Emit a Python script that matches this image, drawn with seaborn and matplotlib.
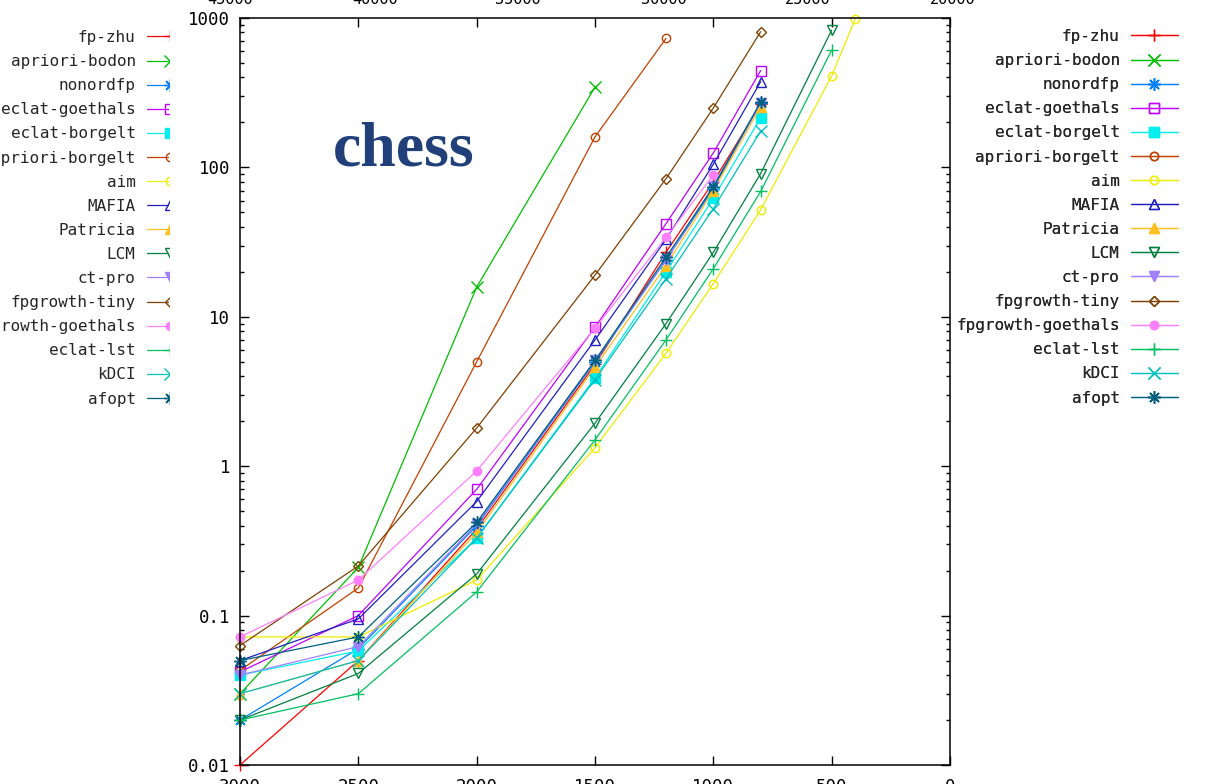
import numpy as np
import pandas as pd
import matplotlib
matplotlib.use("Agg")
import matplotlib.pyplot as plt
import seaborn as sns
from matplotlib.ticker import FixedLocator, FixedFormatter, LogLocator, NullFormatter
from matplotlib.transforms import Bbox, TransformedBbox
from matplotlib.lines import Line2D

nan = np.nan
# ---- data (minimum support, running time in seconds) ----
support = [3000, 2500, 2000, 1500, 1200, 1000, 800, 500, 400]

algorithms = ["fp-zhu", "apriori-bodon", "nonordfp", "eclat-goethals", "eclat-borgelt",
              "apriori-borgelt", "aim", "MAFIA", "Patricia", "LCM", "ct-pro",
              "fpgrowth-tiny", "fpgrowth-goethals", "eclat-lst", "kDCI", "afopt"]

fp_zhu            = [0.010, 0.050, 0.38, 4.8, 27, 80, 265, nan, nan]
apriori_bodon     = [0.030, 0.210, 15.8, 345, nan, nan, nan, nan, nan]
nonordfp          = [0.020, 0.060, 0.40, 5.0, 24, 72, 270, nan, nan]
eclat_goethals    = [0.042, 0.100, 0.70, 8.5, 42, 125, 445, nan, nan]
eclat_borgelt     = [0.040, 0.058, 0.33, 3.9, 20, 62, 215, nan, nan]
apriori_borgelt   = [0.043, 0.153, 5.0, 160, 730, nan, nan, nan, nan]
aim               = [0.072, 0.072, 0.173, 1.33, 5.7, 16.7, 52, 410, 990]
mafia             = [0.050, 0.095, 0.58, 7.0, 33, 105, 375, nan, nan]
patricia          = [0.030, 0.050, 0.36, 4.6, 22, 70, 255, nan, nan]
lcm               = [0.020, 0.041, 0.19, 1.94, 9, 27, 91, 830, nan]
ct_pro            = [0.040, 0.062, 0.41, 5.1, 24, 75, 270, nan, nan]
fpgrowth_tiny     = [0.063, 0.215, 1.8, 19, 84, 250, 810, nan, nan]
fpgrowth_goethals = [0.072, 0.173, 0.93, 8.4, 34, 89, nan, nan, nan]
eclat_lst         = [0.020, 0.030, 0.144, 1.5, 7, 21, 69, 610, nan]
kdci              = [0.030, 0.050, 0.33, 3.8, 18, 53, 175, nan, nan]
afopt             = [0.050, 0.072, 0.42, 5.1, 25, 74, 275, nan, nan]

series_values = [fp_zhu, apriori_bodon, nonordfp, eclat_goethals, eclat_borgelt,
                 apriori_borgelt, aim, mafia, patricia, lcm, ct_pro,
                 fpgrowth_tiny, fpgrowth_goethals, eclat_lst, kdci, afopt]

y_ticks = [0.01, 0.1, 1, 10, 100, 1000]
y_tick_labels = ["0.01", "0.1", "1", "10", "100", "1000"]
x_ticks = [3000, 2500, 2000, 1500, 1000, 500, 0]
x_tick_labels = ["3000", "2500", "2000", "1500", "1000", "500", "0"]
# clipped tick labels of the neighbouring chart above
top_labels = ["45000", "40000", "35000", "30000", "25000", "20000"]
title_text = "chess"

# ---- styles ----
colors = ["#ff0000", "#00c000", "#0080ff", "#c000ff", "#00eeee", "#c04000", "#eeee00",
          "#2020c0", "#ffc020", "#008040", "#a080ff", "#804000", "#ff80ff", "#00c060",
          "#00c0c0", "#006080"]
ast = (8, 2, 0)
markers = ["+", "x", ast, "s", "s", "o", "o", "^", "^", "v", "v", "D", "o", "+", "x", ast]
filled = [None, None, None, False, True, False, False, False, True, False, True,
          False, True, None, None, None]
msizes = [9, 8, 9, 7, 7, 6, 6, 7, 7, 7, 7, 5.5, 6, 9, 8, 9]

sns.set_style("ticks")
plt.rcParams["font.family"] = ["DejaVu Sans Mono", "DejaVu Sans"]

W, H = 1206, 784
fig = plt.figure(figsize=(W / 100, H / 100), dpi=100)
L, R, T, B = 240, 950, 18, 765
ax = fig.add_axes([L / W, 1 - B / H, (R - L) / W, (B - T) / H])

handles = []
for name, vals, c, m, f, ms in zip(algorithms, series_values, colors, markers, filled, msizes):
    df = pd.DataFrame({"support": support, "time": vals}).dropna()
    if f is None or f:
        mfc = c
    else:
        mfc = "none"
    sns.lineplot(data=df, x="support", y="time", ax=ax, color=c, marker=m,
                 markersize=ms, markerfacecolor=mfc, markeredgecolor=c,
                 markeredgewidth=1.0, linewidth=0.9, label=name, clip_on=False,
                 legend=False)
    handles.append(ax.lines[-1])

ax.set_yscale("log")
ax.set_ylim(0.01, 1000)
ax.set_xlim(3000, 0)
ax.set_xlabel("")
ax.set_ylabel("")
ax.yaxis.set_major_locator(FixedLocator(y_ticks))
ax.yaxis.set_major_formatter(FixedFormatter(y_tick_labels))
ax.yaxis.set_minor_locator(LogLocator(base=10, subs=np.arange(2, 10)))
ax.yaxis.set_minor_formatter(NullFormatter())
ax.set_xticks(x_ticks)
ax.set_xticklabels(x_tick_labels)
for s in ax.spines.values():
    s.set_visible(True)
    s.set_color("black")
    s.set_linewidth(1.1)
ax.tick_params(which="both", direction="in", top=True, right=True, color="black")
ax.tick_params(which="major", length=6.5, width=1.0)
ax.tick_params(which="minor", length=3.2, width=1.0)
ax.tick_params(axis="y", which="major", labelsize=12.5, pad=7, labelcolor="black")
ax.tick_params(axis="x", which="major", labelsize=12.5, pad=9.5, labelcolor="black")
ax.set_facecolor("white")

# title inside the plot
fig.text(333 / W, 1 - 165 / H, title_text, fontfamily="Liberation Serif", fontweight="bold",
         fontsize=46, color="#21407a", ha="left", va="baseline")

# right legend (gnuplot style: label, then sample)
leg_kw = dict(markerfirst=False, frameon=False, fontsize=11.5, handlelength=2.95,
              handletextpad=0.7, labelspacing=0.57, borderpad=0, borderaxespad=0,
              numpoints=1, bbox_transform=fig.transFigure, loc="upper right")
leg_r = ax.legend(handles, algorithms, bbox_to_anchor=(1178 / W, 1 - 29 / H), **leg_kw)
ax.add_artist(leg_r)

# left legend of the neighbouring chart, clipped at its right edge
leg_l = fig.legend(handles, algorithms, bbox_to_anchor=(194 / W, 1 - 30 / H), **leg_kw)
clipbox = TransformedBbox(Bbox.from_extents(-1, -1, 169 / W, 2), fig.transFigure)
for ln in leg_l.findobj(Line2D):
    ln.set_clip_box(clipbox)
    ln.set_clip_on(True)

# clipped tick labels of the chart above
top_x = [230, 375, 518, 664, 808, 953]
for xp, s in zip(top_x, top_labels):
    fig.text(xp / W, 1 - 4 / H, s, fontsize=11, ha="center", va="baseline", color="black")

fig.savefig("out.png", dpi=100, facecolor="white")
